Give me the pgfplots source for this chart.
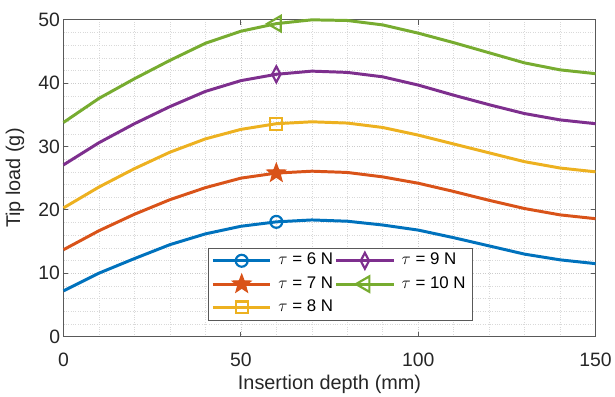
\documentclass[border=0pt]{standalone}
\usepackage{pgfplots}
\pgfplotsset{compat=1.18}
\usepackage{fontspec}
\setmainfont{Liberation Sans}
\definecolor{c1}{rgb}{0,0.447,0.741}
\definecolor{c2}{rgb}{0.85,0.325,0.098}
\definecolor{c3}{rgb}{0.929,0.694,0.125}
\definecolor{c4}{rgb}{0.494,0.184,0.556}
\definecolor{c5}{rgb}{0.466,0.674,0.188}
\definecolor{axgray}{rgb}{0.35,0.35,0.35}
\pgfdeclareplotmark{pentagram}{%
  \pgfpathmoveto{\pgfqpointpolar{90}{\pgfplotmarksize}}%
  \pgfpathlineto{\pgfqpointpolar{126}{0.42\pgfplotmarksize}}%
  \pgfpathlineto{\pgfqpointpolar{162}{\pgfplotmarksize}}%
  \pgfpathlineto{\pgfqpointpolar{198}{0.42\pgfplotmarksize}}%
  \pgfpathlineto{\pgfqpointpolar{234}{\pgfplotmarksize}}%
  \pgfpathlineto{\pgfqpointpolar{270}{0.42\pgfplotmarksize}}%
  \pgfpathlineto{\pgfqpointpolar{306}{\pgfplotmarksize}}%
  \pgfpathlineto{\pgfqpointpolar{342}{0.42\pgfplotmarksize}}%
  \pgfpathlineto{\pgfqpointpolar{18}{\pgfplotmarksize}}%
  \pgfpathlineto{\pgfqpointpolar{54}{0.42\pgfplotmarksize}}%
  \pgfpathclose
  \pgfusepathqfillstroke}
\begin{document}
\begin{tikzpicture}
\begin{axis}[
  scale only axis, width=536pt, height=319pt,
  xmin=0, xmax=150, ymin=0, ymax=50,
  xtick={0,50,100,150}, ytick={0,10,20,30,40,50},
  minor x tick num=4, minor y tick num=4,
  grid=both,
  major grid style={dotted, gray!40, line width=0.7pt},
  minor grid style={dotted, gray!30, line width=0.6pt},
  axis line style={axgray, line width=1pt},
  tick style={axgray, line width=1pt},
  major tick length=5pt, minor tick length=0pt,
  tick align=inside,
  /pgf/number format/assume math mode=true,
  tick label style={font=\fontsize{19.5}{23}\selectfont, text=black!85},
  xticklabel style={yshift=-13pt},
  label style={font=\fontsize{20}{24}\selectfont, text=black!85},
  xlabel={Insertion depth (mm)},
  ylabel={Tip load (g)},
  xlabel style={at={(axis description cs:0.5,0)}, anchor=center, yshift=-48pt},
  ylabel style={at={(axis description cs:0,0.5)}, anchor=center, yshift=49pt},
  legend columns=2,
  legend cell align=left,
  legend style={at={(rel axis cs:0.2724,0.0502)}, anchor=south west,
    font=\fontsize{17}{21}\selectfont, draw=gray!70!black, line width=1pt,
    row sep=0pt, column sep=0pt, inner xsep=4pt, inner ysep=1pt,
    nodes={inner xsep=3pt, inner ysep=3.75pt, text height=12pt, text depth=4pt},
    /tikz/every odd column/.append style={column sep=5pt}},
  legend image code/.code={
    \draw[#1, mark indices={2}, overlay] plot coordinates {(0pt,0pt) (29pt,0pt) (58pt,0pt)};
    \path[draw=none, fill=none] (0pt,-8pt) rectangle (58pt,4pt);},
  every axis plot/.append style={line width=3pt, mark indices={7}},
  clip=false,
]
\addplot[c1, mark=o, mark options={solid, line width=2.2pt, mark size=6pt}] coordinates {
(0,7.2) (10,10.0) (20,12.3) (30,14.5) (40,16.2) (50,17.4) (60,18.1) (70,18.4) (80,18.2) (90,17.6) (100,16.8) (110,15.6) (120,14.3) (130,13.0) (140,12.1) (150,11.5)};
\addlegendentry{$\tau$ = 6 N}
\addplot[c4, mark=diamond, mark options={solid, line width=2.2pt, mark size=8pt, xscale=0.7}] coordinates {
(0,27.1) (10,30.6) (20,33.6) (30,36.3) (40,38.7) (50,40.4) (60,41.4) (70,41.9) (80,41.7) (90,41.0) (100,39.7) (110,38.1) (120,36.6) (130,35.2) (140,34.2) (150,33.6)};
\addlegendentry{$\tau$ = 9 N}
\addplot[c2, mark=pentagram, mark options={solid, fill=c2, line width=1pt, mark size=10pt}] coordinates {
(0,13.7) (10,16.7) (20,19.3) (30,21.6) (40,23.5) (50,25.0) (60,25.8) (70,26.1) (80,25.9) (90,25.2) (100,24.2) (110,22.9) (120,21.5) (130,20.2) (140,19.2) (150,18.6)};
\addlegendentry{$\tau$ = 7 N}
\addplot[c5, mark=triangle, mark options={solid, rotate=90, line width=2.2pt, mark size=9pt}] coordinates {
(0,33.8) (10,37.6) (20,40.7) (30,43.6) (40,46.3) (50,48.2) (60,49.4) (70,50.0) (80,49.9) (90,49.2) (100,47.9) (110,46.4) (120,44.8) (130,43.2) (140,42.1) (150,41.5)};
\addlegendentry{$\tau$ = 10 N}
\addplot[c3, mark=square, mark options={solid, line width=2.2pt, mark size=6pt}] coordinates {
(0,20.3) (10,23.6) (20,26.5) (30,29.1) (40,31.2) (50,32.7) (60,33.6) (70,33.9) (80,33.7) (90,33.0) (100,31.8) (110,30.4) (120,29.0) (130,27.6) (140,26.6) (150,26.0)};
\addlegendentry{$\tau$ = 8 N}
\end{axis}
\useasboundingbox ([xshift=-64pt,yshift=-59pt]current axis.south west) rectangle ([xshift=15pt,yshift=20pt]current axis.north east);
\end{tikzpicture}
\end{document}
